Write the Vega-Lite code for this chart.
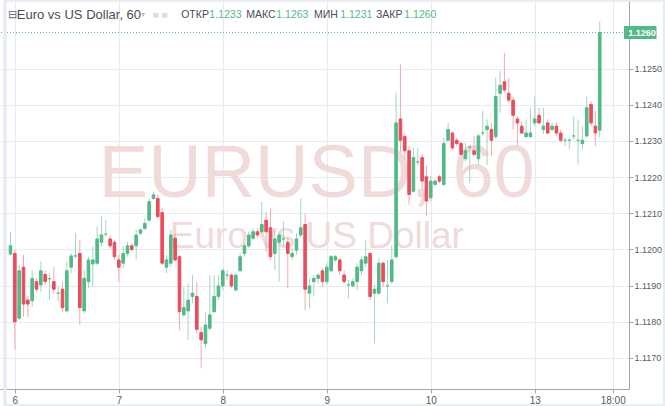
{
  "$schema": "https://vega.github.io/schema/vega-lite/v6.json",
  "description": "EURUSD hourly candlesticks, TradingView style.",
  "width": 629,
  "height": 389,
  "padding": {"left": 0, "top": 0, "right": 36, "bottom": 17},
  "autosize": {"type": "none"},
  "background": "white",
  "config": {
    "view": {"stroke": null},
    "font": "Liberation Sans",
    "axis": {
      "domainColor": "#a2a5ab",
      "tickColor": "#a2a5ab",
      "gridColor": "#e6ebef",
      "labelColor": "#575a64",
      "labelFont": "Liberation Sans",
      "title": null
    }
  },
  "data": {
    "values": [
      {"t": -1, "o": 1.11987, "h": 1.12049, "l": 1.11985, "c": 1.1201},
      {"t": 0, "o": 1.11989, "h": 1.11998, "l": 1.11722, "c": 1.118},
      {"t": 1, "o": 1.1181, "h": 1.11957, "l": 1.11805, "c": 1.11941},
      {"t": 2, "o": 1.11951, "h": 1.11985, "l": 1.11814, "c": 1.11849},
      {"t": 3, "o": 1.1186, "h": 1.1187, "l": 1.11814, "c": 1.11849},
      {"t": 4, "o": 1.11858, "h": 1.11943, "l": 1.11842, "c": 1.1192},
      {"t": 5, "o": 1.11911, "h": 1.1192, "l": 1.11883, "c": 1.1189},
      {"t": 6, "o": 1.11902, "h": 1.11966, "l": 1.11883, "c": 1.11941},
      {"t": 7, "o": 1.11931, "h": 1.11943, "l": 1.11902, "c": 1.11911},
      {"t": 8, "o": 1.11919, "h": 1.11934, "l": 1.1186, "c": 1.11919},
      {"t": 9, "o": 1.11911, "h": 1.11951, "l": 1.11879, "c": 1.1189},
      {"t": 10, "o": 1.11879, "h": 1.11897, "l": 1.11856, "c": 1.11879},
      {"t": 11, "o": 1.1189, "h": 1.11911, "l": 1.11828, "c": 1.11839},
      {"t": 12, "o": 1.1183, "h": 1.11966, "l": 1.11828, "c": 1.11941},
      {"t": 13, "o": 1.11951, "h": 1.11989, "l": 1.11934, "c": 1.11982},
      {"t": 14, "o": 1.11982, "h": 1.12045, "l": 1.11975, "c": 1.11982},
      {"t": 15, "o": 1.11989, "h": 1.12026, "l": 1.11791, "c": 1.11839},
      {"t": 16, "o": 1.1183, "h": 1.11943, "l": 1.11823, "c": 1.1192},
      {"t": 17, "o": 1.11911, "h": 1.1198, "l": 1.11892, "c": 1.11971},
      {"t": 18, "o": 1.1196, "h": 1.12008, "l": 1.11897, "c": 1.11971},
      {"t": 19, "o": 1.11962, "h": 1.12063, "l": 1.11957, "c": 1.12029},
      {"t": 20, "o": 1.1202, "h": 1.12091, "l": 1.12008, "c": 1.1204},
      {"t": 21, "o": 1.12042, "h": 1.12081, "l": 1.12035, "c": 1.12042},
      {"t": 22, "o": 1.12029, "h": 1.1204, "l": 1.12003, "c": 1.1201},
      {"t": 23, "o": 1.1202, "h": 1.12026, "l": 1.11971, "c": 1.1198},
      {"t": 24, "o": 1.11971, "h": 1.11985, "l": 1.11911, "c": 1.11951},
      {"t": 25, "o": 1.11962, "h": 1.12008, "l": 1.11948, "c": 1.11989},
      {"t": 26, "o": 1.11989, "h": 1.12021, "l": 1.1198, "c": 1.1201},
      {"t": 27, "o": 1.1201, "h": 1.12017, "l": 1.11994, "c": 1.12},
      {"t": 28, "o": 1.1201, "h": 1.12054, "l": 1.11971, "c": 1.1204},
      {"t": 29, "o": 1.12045, "h": 1.12058, "l": 1.1204, "c": 1.12054},
      {"t": 30, "o": 1.12058, "h": 1.12086, "l": 1.12054, "c": 1.12072},
      {"t": 31, "o": 1.12081, "h": 1.12141, "l": 1.12077, "c": 1.12132},
      {"t": 32, "o": 1.12141, "h": 1.1216, "l": 1.12137, "c": 1.12151},
      {"t": 33, "o": 1.12141, "h": 1.12151, "l": 1.12086, "c": 1.12091},
      {"t": 34, "o": 1.12102, "h": 1.12114, "l": 1.11957, "c": 1.11962},
      {"t": 35, "o": 1.11951, "h": 1.11985, "l": 1.11934, "c": 1.11971},
      {"t": 36, "o": 1.11962, "h": 1.12054, "l": 1.11952, "c": 1.1204},
      {"t": 37, "o": 1.12031, "h": 1.12045, "l": 1.11966, "c": 1.11971},
      {"t": 38, "o": 1.1198, "h": 1.11985, "l": 1.11777, "c": 1.11828},
      {"t": 39, "o": 1.11819, "h": 1.11897, "l": 1.11814, "c": 1.11839},
      {"t": 40, "o": 1.1183, "h": 1.11906, "l": 1.1175, "c": 1.1186},
      {"t": 41, "o": 1.1187, "h": 1.11929, "l": 1.11851, "c": 1.11879},
      {"t": 42, "o": 1.1187, "h": 1.11911, "l": 1.11768, "c": 1.11779},
      {"t": 43, "o": 1.1177, "h": 1.11787, "l": 1.11671, "c": 1.1175},
      {"t": 44, "o": 1.1174, "h": 1.11828, "l": 1.11727, "c": 1.11791},
      {"t": 45, "o": 1.11782, "h": 1.11929, "l": 1.11777, "c": 1.11819},
      {"t": 46, "o": 1.11828, "h": 1.11929, "l": 1.11823, "c": 1.1187},
      {"t": 47, "o": 1.1187, "h": 1.11929, "l": 1.1186, "c": 1.11899},
      {"t": 48, "o": 1.11899, "h": 1.11948, "l": 1.11888, "c": 1.11941},
      {"t": 49, "o": 1.11929, "h": 1.11943, "l": 1.11916, "c": 1.11929},
      {"t": 50, "o": 1.11929, "h": 1.11934, "l": 1.11892, "c": 1.11899},
      {"t": 51, "o": 1.11888, "h": 1.11934, "l": 1.11883, "c": 1.11929},
      {"t": 52, "o": 1.11941, "h": 1.11989, "l": 1.11939, "c": 1.1198},
      {"t": 53, "o": 1.11989, "h": 1.12017, "l": 1.1198, "c": 1.1201},
      {"t": 54, "o": 1.1201, "h": 1.12049, "l": 1.12003, "c": 1.1204},
      {"t": 55, "o": 1.12031, "h": 1.12058, "l": 1.12026, "c": 1.12049},
      {"t": 56, "o": 1.12049, "h": 1.12058, "l": 1.12031, "c": 1.1204},
      {"t": 57, "o": 1.12049, "h": 1.12132, "l": 1.12045, "c": 1.12069},
      {"t": 58, "o": 1.12081, "h": 1.12104, "l": 1.11994, "c": 1.12049},
      {"t": 59, "o": 1.1206, "h": 1.12114, "l": 1.11971, "c": 1.1198},
      {"t": 60, "o": 1.11989, "h": 1.12054, "l": 1.11943, "c": 1.12029},
      {"t": 61, "o": 1.1202, "h": 1.12049, "l": 1.11911, "c": 1.1204},
      {"t": 62, "o": 1.12029, "h": 1.12077, "l": 1.12008, "c": 1.12029},
      {"t": 63, "o": 1.1202, "h": 1.12031, "l": 1.11892, "c": 1.11989},
      {"t": 64, "o": 1.1198, "h": 1.12003, "l": 1.11971, "c": 1.11989},
      {"t": 65, "o": 1.11998, "h": 1.12045, "l": 1.11985, "c": 1.12029},
      {"t": 66, "o": 1.1204, "h": 1.12141, "l": 1.12031, "c": 1.1206},
      {"t": 67, "o": 1.12069, "h": 1.121, "l": 1.11832, "c": 1.1189},
      {"t": 68, "o": 1.11879, "h": 1.1192, "l": 1.11837, "c": 1.11899},
      {"t": 69, "o": 1.11911, "h": 1.11929, "l": 1.1187, "c": 1.1192},
      {"t": 70, "o": 1.1192, "h": 1.11934, "l": 1.11906, "c": 1.11929},
      {"t": 71, "o": 1.11941, "h": 1.11948, "l": 1.11897, "c": 1.11911},
      {"t": 72, "o": 1.11911, "h": 1.11962, "l": 1.11902, "c": 1.11951},
      {"t": 73, "o": 1.11941, "h": 1.11985, "l": 1.11939, "c": 1.1198},
      {"t": 74, "o": 1.11971, "h": 1.11985, "l": 1.11966, "c": 1.1198},
      {"t": 75, "o": 1.11971, "h": 1.11975, "l": 1.11929, "c": 1.11941},
      {"t": 76, "o": 1.11929, "h": 1.11943, "l": 1.11906, "c": 1.11911},
      {"t": 77, "o": 1.11902, "h": 1.11916, "l": 1.11865, "c": 1.11902},
      {"t": 78, "o": 1.11899, "h": 1.1192, "l": 1.11897, "c": 1.11911},
      {"t": 79, "o": 1.11911, "h": 1.11962, "l": 1.11888, "c": 1.11951},
      {"t": 80, "o": 1.11941, "h": 1.1198, "l": 1.11929, "c": 1.11971},
      {"t": 81, "o": 1.11962, "h": 1.12026, "l": 1.11952, "c": 1.1198},
      {"t": 82, "o": 1.11989, "h": 1.11994, "l": 1.1186, "c": 1.1187},
      {"t": 83, "o": 1.11879, "h": 1.11902, "l": 1.1174, "c": 1.1189},
      {"t": 84, "o": 1.11879, "h": 1.11975, "l": 1.11874, "c": 1.11962},
      {"t": 85, "o": 1.11962, "h": 1.11966, "l": 1.11897, "c": 1.11911},
      {"t": 86, "o": 1.11899, "h": 1.11971, "l": 1.11851, "c": 1.11899},
      {"t": 87, "o": 1.11911, "h": 1.12012, "l": 1.11906, "c": 1.11971},
      {"t": 88, "o": 1.1198, "h": 1.12434, "l": 1.11975, "c": 1.1235},
      {"t": 89, "o": 1.12361, "h": 1.12512, "l": 1.12268, "c": 1.12302},
      {"t": 90, "o": 1.12312, "h": 1.12323, "l": 1.12249, "c": 1.12273},
      {"t": 91, "o": 1.12273, "h": 1.12286, "l": 1.12124, "c": 1.12152},
      {"t": 92, "o": 1.12161, "h": 1.12281, "l": 1.12157, "c": 1.12254},
      {"t": 93, "o": 1.12242, "h": 1.12281, "l": 1.12233, "c": 1.12242},
      {"t": 94, "o": 1.12254, "h": 1.12263, "l": 1.12166, "c": 1.12189},
      {"t": 95, "o": 1.12201, "h": 1.12233, "l": 1.12092, "c": 1.12134},
      {"t": 96, "o": 1.12143, "h": 1.12203, "l": 1.12134, "c": 1.12189},
      {"t": 97, "o": 1.1218, "h": 1.12194, "l": 1.12175, "c": 1.12189},
      {"t": 98, "o": 1.12201, "h": 1.12207, "l": 1.12184, "c": 1.12189},
      {"t": 99, "o": 1.1218, "h": 1.12309, "l": 1.12175, "c": 1.12293},
      {"t": 100, "o": 1.12302, "h": 1.1235, "l": 1.123, "c": 1.12332},
      {"t": 101, "o": 1.12322, "h": 1.12327, "l": 1.12275, "c": 1.12281},
      {"t": 102, "o": 1.12302, "h": 1.12309, "l": 1.12286, "c": 1.12293},
      {"t": 103, "o": 1.12293, "h": 1.123, "l": 1.12259, "c": 1.12263},
      {"t": 104, "o": 1.12251, "h": 1.12295, "l": 1.12244, "c": 1.12273},
      {"t": 105, "o": 1.12283, "h": 1.12288, "l": 1.12184, "c": 1.12283},
      {"t": 106, "o": 1.12273, "h": 1.12314, "l": 1.12259, "c": 1.12263},
      {"t": 107, "o": 1.12251, "h": 1.12319, "l": 1.12233, "c": 1.12314},
      {"t": 108, "o": 1.12322, "h": 1.12383, "l": 1.12314, "c": 1.12322},
      {"t": 109, "o": 1.12332, "h": 1.1236, "l": 1.12233, "c": 1.12341},
      {"t": 110, "o": 1.12332, "h": 1.1235, "l": 1.12259, "c": 1.12302},
      {"t": 111, "o": 1.12312, "h": 1.12475, "l": 1.12304, "c": 1.12423},
      {"t": 112, "o": 1.12432, "h": 1.12494, "l": 1.12378, "c": 1.12454},
      {"t": 113, "o": 1.12464, "h": 1.12544, "l": 1.12434, "c": 1.12441},
      {"t": 114, "o": 1.12432, "h": 1.12475, "l": 1.12406, "c": 1.12413},
      {"t": 115, "o": 1.12413, "h": 1.1242, "l": 1.12332, "c": 1.12371},
      {"t": 116, "o": 1.12361, "h": 1.12369, "l": 1.12286, "c": 1.1235},
      {"t": 117, "o": 1.12341, "h": 1.12355, "l": 1.12319, "c": 1.12322},
      {"t": 118, "o": 1.12312, "h": 1.1236, "l": 1.12309, "c": 1.12322},
      {"t": 119, "o": 1.12312, "h": 1.12392, "l": 1.12309, "c": 1.12322},
      {"t": 120, "o": 1.1235, "h": 1.12423, "l": 1.12341, "c": 1.12361},
      {"t": 121, "o": 1.12371, "h": 1.12392, "l": 1.12346, "c": 1.1235},
      {"t": 122, "o": 1.12332, "h": 1.12392, "l": 1.12319, "c": 1.12341},
      {"t": 123, "o": 1.1235, "h": 1.1236, "l": 1.12319, "c": 1.12322},
      {"t": 124, "o": 1.12332, "h": 1.1235, "l": 1.12327, "c": 1.12341},
      {"t": 125, "o": 1.12341, "h": 1.1235, "l": 1.12314, "c": 1.12322},
      {"t": 126, "o": 1.12322, "h": 1.12332, "l": 1.12295, "c": 1.12302},
      {"t": 127, "o": 1.12302, "h": 1.12309, "l": 1.12286, "c": 1.12302},
      {"t": 128, "o": 1.12302, "h": 1.12309, "l": 1.12277, "c": 1.12302},
      {"t": 129, "o": 1.12314, "h": 1.12369, "l": 1.12304, "c": 1.12314},
      {"t": 130, "o": 1.12302, "h": 1.1236, "l": 1.12235, "c": 1.12302},
      {"t": 131, "o": 1.12293, "h": 1.12341, "l": 1.12277, "c": 1.12302},
      {"t": 132, "o": 1.12314, "h": 1.12423, "l": 1.12309, "c": 1.12392},
      {"t": 133, "o": 1.12401, "h": 1.1241, "l": 1.12341, "c": 1.1235},
      {"t": 134, "o": 1.12341, "h": 1.12383, "l": 1.12286, "c": 1.12322},
      {"t": 135, "o": 1.1233, "h": 1.1263, "l": 1.1231, "c": 1.126}
    ]
  },
  "layer": [
    {
      "data": {"values": [{}]},
      "mark": {"type": "text", "text": "EURUSD, 60", "font": "Liberation Sans", "fontSize": 74, "align": "center", "baseline": "alphabetic", "color": "#f1dada"},
      "encoding": {
        "x": {"datum": 69.7, "type": "quantitative"},
        "y": {"datum": 1.12146, "type": "quantitative"}
      }
    },
    {
      "data": {"values": [{}]},
      "mark": {"type": "text", "text": "Euro vs US Dollar", "font": "Liberation Sans", "fontSize": 37, "align": "center", "baseline": "alphabetic", "color": "#f1dada"},
      "encoding": {
        "x": {"datum": 69.7, "type": "quantitative"},
        "y": {"datum": 1.12004, "type": "quantitative"}
      }
    },
    {
      "mark": {"type": "rule", "strokeWidth": 1},
      "encoding": {
        "x": {
          "field": "t",
          "type": "quantitative",
          "scale": {"domain": [-2.27, 140.6], "nice": false, "zero": false},
          "axis": {
            "orient": "bottom",
            "values": [0, 24, 48, 72, 96, 120, 138],
            "labelExpr": "['6','7','8','9','10','13','18:00'][indexof([0,24,48,72,96,120,138], datum.value)]",
            "labelFlush": false,
            "labelFontSize": 10,
            "tickSize": 4,
            "labelPadding": 2,
            "grid": true,
            "domain": true
          }
        },
        "y": {
          "field": "l",
          "type": "quantitative",
          "scale": {"domain": [1.11614, 1.1269], "nice": false, "zero": false},
          "axis": {
            "orient": "right",
            "values": [1.117, 1.118, 1.119, 1.12, 1.121, 1.122, 1.123, 1.124, 1.125],
            "format": ".4f",
            "labelFontSize": 9,
            "tickSize": 4,
            "labelPadding": 1,
            "grid": true,
            "domain": true
          }
        },
        "y2": {"field": "h"},
        "color": {
          "condition": {"test": "datum.c >= datum.o", "value": "#a3d6be"},
          "value": "#f3a8b0"
        }
      }
    },
    {
      "mark": {"type": "bar", "width": 2.6, "strokeWidth": 1},
      "encoding": {
        "x": {"field": "t", "type": "quantitative"},
        "y": {"field": "o", "type": "quantitative"},
        "y2": {"field": "c"},
        "color": {
          "condition": {"test": "datum.c >= datum.o", "value": "#53b987"},
          "value": "#eb4d5c"
        },
        "stroke": {
          "condition": {"test": "datum.c >= datum.o", "value": "#53b987"},
          "value": "#eb4d5c"
        },
        "tooltip": [
          {"field": "t", "type": "quantitative", "title": "hour"},
          {"field": "o", "type": "quantitative", "format": ".5f"},
          {"field": "h", "type": "quantitative", "format": ".5f"},
          {"field": "l", "type": "quantitative", "format": ".5f"},
          {"field": "c", "type": "quantitative", "format": ".5f"}
        ]
      }
    },
    {
      "data": {"values": [{}]},
      "mark": {"type": "rule", "color": "#53b987", "strokeDash": [1, 2], "strokeWidth": 1},
      "encoding": {"y": {"datum": 1.126, "type": "quantitative"}}
    },
    {
      "data": {"values": [{}]},
      "mark": {"type": "rect", "color": "#53b987"},
      "encoding": {
        "x": {"datum": 140.6, "type": "quantitative"},
        "x2": {"datum": 148.1},
        "y": {"datum": 1.12582, "type": "quantitative"},
        "y2": {"datum": 1.12618}
      }
    },
    {
      "data": {"values": [{}]},
      "mark": {"type": "text", "text": "1.1260", "fontSize": 9, "fontWeight": "bold", "align": "left", "baseline": "middle", "color": "white"},
      "encoding": {
        "x": {"datum": 141.6, "type": "quantitative"},
        "y": {"datum": 1.126, "type": "quantitative"}
      }
    },
    {
      "data": {"values": [{}]},
      "mark": {"type": "text", "text": "⊟", "fontSize": 11, "align": "left", "baseline": "middle", "color": "#6a6d78"},
      "encoding": {
        "x": {"datum": -1.6, "type": "quantitative"},
        "y": {"datum": 1.12649, "type": "quantitative"}
      }
    },
    {
      "data": {"values": [{}]},
      "mark": {"type": "text", "text": "Euro vs US Dollar, 60", "fontSize": 13, "align": "left", "baseline": "middle", "color": "#4a4d57"},
      "encoding": {
        "x": {"datum": 0.45, "type": "quantitative"},
        "y": {"datum": 1.12649, "type": "quantitative"}
      }
    },
    {
      "data": {"values": [{}]},
      "mark": {"type": "text", "text": "▾", "fontSize": 8, "align": "left", "baseline": "middle", "color": "#b8bcc4"},
      "encoding": {
        "x": {"datum": 29.2, "type": "quantitative"},
        "y": {"datum": 1.12649, "type": "quantitative"}
      }
    },
    {
      "data": {"values": [{}]},
      "mark": {"type": "text", "text": "■ ■", "fontSize": 10, "align": "left", "baseline": "middle", "color": "#dadde2"},
      "encoding": {
        "x": {"datum": 31.8, "type": "quantitative"},
        "y": {"datum": 1.12649, "type": "quantitative"}
      }
    },
    {
      "data": {"values": [{}]},
      "mark": {"type": "text", "text": "ОТКР", "fontSize": 10.5, "align": "left", "baseline": "middle", "color": "#4a4d57"},
      "encoding": {
        "x": {"datum": 38.4, "type": "quantitative"},
        "y": {"datum": 1.12649, "type": "quantitative"}
      }
    },
    {
      "data": {"values": [{}]},
      "mark": {"type": "text", "text": "1.1233", "fontSize": 10.5, "align": "left", "baseline": "middle", "color": "#53b987"},
      "encoding": {
        "x": {"datum": 44.9, "type": "quantitative"},
        "y": {"datum": 1.12649, "type": "quantitative"}
      }
    },
    {
      "data": {"values": [{}]},
      "mark": {"type": "text", "text": "МАКС", "fontSize": 10.5, "align": "left", "baseline": "middle", "color": "#4a4d57"},
      "encoding": {
        "x": {"datum": 53.4, "type": "quantitative"},
        "y": {"datum": 1.12649, "type": "quantitative"}
      }
    },
    {
      "data": {"values": [{}]},
      "mark": {"type": "text", "text": "1.1263", "fontSize": 10.5, "align": "left", "baseline": "middle", "color": "#53b987"},
      "encoding": {
        "x": {"datum": 60.35, "type": "quantitative"},
        "y": {"datum": 1.12649, "type": "quantitative"}
      }
    },
    {
      "data": {"values": [{}]},
      "mark": {"type": "text", "text": "МИН", "fontSize": 10.5, "align": "left", "baseline": "middle", "color": "#4a4d57"},
      "encoding": {
        "x": {"datum": 69.05, "type": "quantitative"},
        "y": {"datum": 1.12649, "type": "quantitative"}
      }
    },
    {
      "data": {"values": [{}]},
      "mark": {"type": "text", "text": "1.1231", "fontSize": 10.5, "align": "left", "baseline": "middle", "color": "#53b987"},
      "encoding": {
        "x": {"datum": 75.1, "type": "quantitative"},
        "y": {"datum": 1.12649, "type": "quantitative"}
      }
    },
    {
      "data": {"values": [{}]},
      "mark": {"type": "text", "text": "ЗАКР", "fontSize": 10.5, "align": "left", "baseline": "middle", "color": "#4a4d57"},
      "encoding": {
        "x": {"datum": 83.36, "type": "quantitative"},
        "y": {"datum": 1.12649, "type": "quantitative"}
      }
    },
    {
      "data": {"values": [{}]},
      "mark": {"type": "text", "text": "1.1260", "fontSize": 10.5, "align": "left", "baseline": "middle", "color": "#53b987"},
      "encoding": {
        "x": {"datum": 89.9, "type": "quantitative"},
        "y": {"datum": 1.12649, "type": "quantitative"}
      }
    },
    {
      "data": {"values": [{}]},
      "mark": {"type": "rect", "filled": false, "stroke": "#e8ecf1", "strokeWidth": 3.5},
      "encoding": {
        "x": {"datum": -2.27, "type": "quantitative"},
        "x2": {"datum": 150},
        "y": {"datum": 1.1269, "type": "quantitative"},
        "y2": {"datum": 1.11567}
      }
    }
  ]
}
